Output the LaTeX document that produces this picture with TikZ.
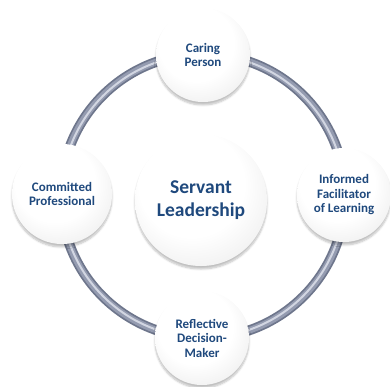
\documentclass[tikz,border=0pt]{standalone}
\usepackage{fontspec}
\setmainfont{Carlito}
\usetikzlibrary{shadows.blur}
\definecolor{txtblue}{RGB}{31,73,125}
\definecolor{tubedark}{RGB}{110,118,140}
\definecolor{tubemid}{RGB}{148,155,176}
\definecolor{tubelight}{RGB}{210,214,226}
\pgfdeclareradialshading{sphere}{\pgfpoint{-6bp}{10bp}}{%
  color(0bp)=(white); color(20bp)=(white); color(38bp)=(black!9);
  color(46bp)=(black!24); color(50bp)=(black!40)}
\tikzset{
  sph/.style={circle, inner sep=0pt, shading=sphere, align=center,
    text=txtblue, font=\bfseries\fontsize{13}{14.5}\selectfont,
    blur shadow={shadow xshift=0pt, shadow yshift=-3pt, shadow blur steps=6, shadow opacity=25}},
  small/.style={sph, minimum size=94pt},
  big/.style={sph, minimum size=132pt, font=\bfseries\fontsize{19.5}{23}\selectfont},
}
\begin{document}
\begin{tikzpicture}[x=1pt,y=-1pt]
\useasboundingbox (0,0) rectangle (390,386);
\coordinate (o) at (203,196);
\draw[tubedark, line width=10pt] (o) circle[radius=142];
\draw[tubemid, line width=6.5pt] (o) circle[radius=142];
\draw[tubelight, line width=2pt] (o) circle[radius=141.5];
\node[big] (c) at (201,200) {Servant\\Leadership};
\node[small] (t) at (203,55) {Caring\\Person};
\node[small, minimum size=100pt] (l) at (62,194) {Committed\\Professional};
\node[small] (r) at (344,195) {Informed\\Facilitator\\of Learning};
\node[small] (b) at (202,338) {Reflective\\Decision-\\Maker};
\end{tikzpicture}
\end{document}
